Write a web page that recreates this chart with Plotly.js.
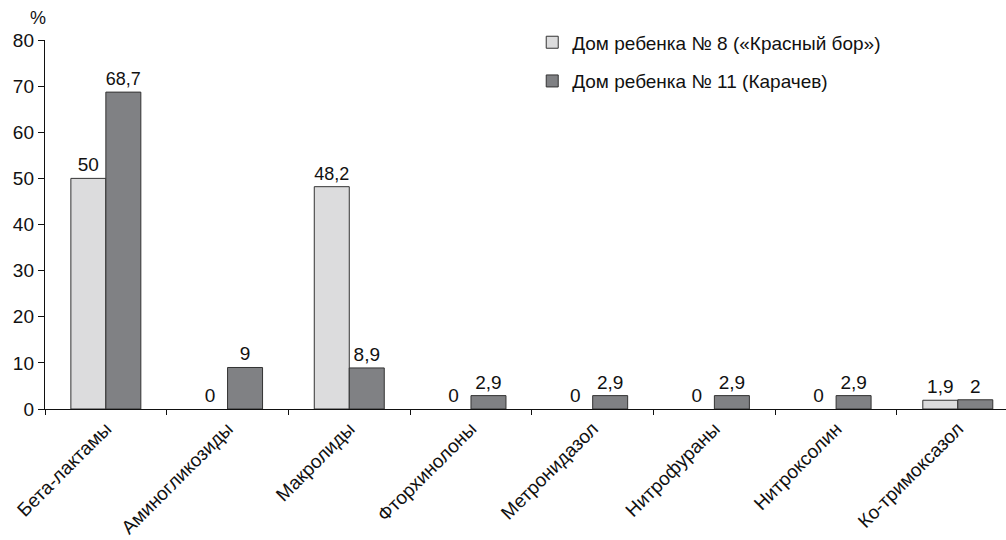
<!DOCTYPE html>
<html>
<head>
<meta charset="utf-8">
<script src="https://cdn.plot.ly/plotly-3.0.1.min.js"></script>
<style>html,body{margin:0;padding:0;background:#fff;}#chart{width:1006px;height:540px;}</style>
</head>
<body>
<div id="chart"></div>
<script>
const categories = ['Бета-лактамы','Аминогликозиды','Макролиды','Фторхинолоны','Метронидазол','Нитрофураны','Нитроксолин','Ко-тримоксазол'];
const series1Name = 'Дом ребенка № 8 («Красный бор»)';
const series2Name = 'Дом ребенка № 11 (Карачев)';
const series1 = [50, 0, 48.2, 0, 0, 0, 0, 1.9];
const series2 = [68.7, 9, 8.9, 2.9, 2.9, 2.9, 2.9, 2];
const yTicks = [0,10,20,30,40,50,60,70,80];

const fmt = v => String(v).replace('.', ',');
const font = 'Liberation Sans, Arial, Helvetica, sans-serif';
const lineW = arr => arr.map(v => v === 0 ? 0 : 1);

const traces = [
  {type:'bar', name:series1Name, x:categories, y:series1, legendgroup:'a',
   marker:{color:'#dcdcdd', line:{color:'#333333', width:lineW(series1)}},
   text:series1.map(fmt), textposition:'outside', cliponaxis:false,
   textfont:{size:19, color:'#111'}},
  {type:'bar', name:series2Name, x:categories, y:series2, legendgroup:'b',
   marker:{color:'#808184', line:{color:'#333333', width:lineW(series2)}},
   text:series2.map(fmt), textposition:'outside', cliponaxis:false,
   textfont:{size:19, color:'#111'}}
];

const layout = {
  width:1006, height:540,
  margin:{l:45, r:0, t:40, b:131, pad:0},
  paper_bgcolor:'#fff', plot_bgcolor:'#fff',
  font:{family:font, size:19, color:'#111'},
  barmode:'group', bargap:0.425, bargroupgap:0,
  showlegend:true,
  legend:{x:0.507, y:1.045, xanchor:'left', yanchor:'top', traceorder:'grouped', tracegroupgap:11,
          font:{size:19, color:'#111'}, bgcolor:'rgba(0,0,0,0)'},
  xaxis:{type:'category', range:[-0.5, 7.396], showline:true, linecolor:'#111', linewidth:1.2,
         ticks:'outside', tickson:'boundaries', ticklen:5, tickcolor:'#111', tickangle:-45,
         tickfont:{size:19}, showgrid:false, zeroline:false},
  yaxis:{range:[0,80], tickvals:yTicks, ticktext:yTicks.map(String), showline:true, linecolor:'#111', linewidth:1.2,
         ticks:'outside', ticklen:6, tickcolor:'#111', tickfont:{size:19}, showgrid:false, zeroline:false},
  annotations:[{text:'%', xref:'paper', yref:'paper', x:0, y:1.0, yshift:22, xshift:3, xanchor:'right', yanchor:'middle',
                showarrow:false, font:{size:18, color:'#111'}}]
};

Plotly.newPlot('chart', traces, layout, {displayModeBar:false, staticPlot:true});
</script>
</body>
</html>
